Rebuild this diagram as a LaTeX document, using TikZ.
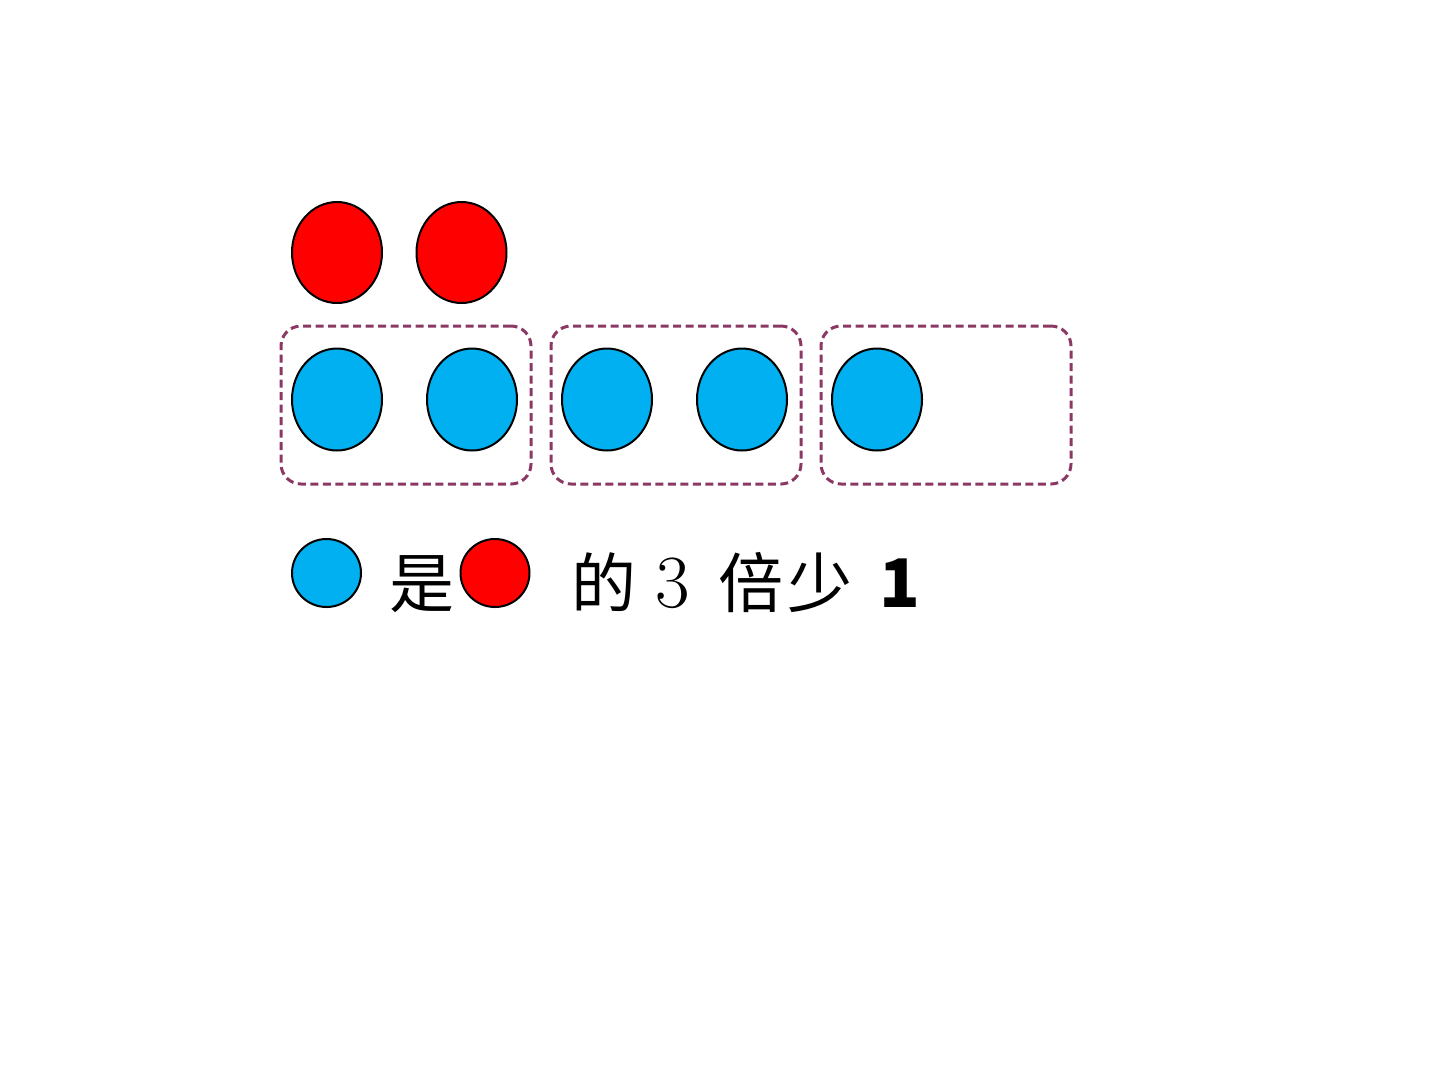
\documentclass[tikz,border=0pt]{standalone}
\usepackage{fontspec}
\newfontfamily\cjk{Noto Sans CJK SC}
\definecolor{ballblue}{RGB}{0,176,240}
\definecolor{ballred}{RGB}{255,0,0}
\definecolor{boxpurple}{RGB}{140,56,100}
\usetikzlibrary{shapes.geometric}
\tikzset{
  ball/.style={ellipse, draw=black, line width=2pt, minimum width=90pt, minimum height=102pt, inner sep=0pt},
  smallball/.style={ellipse, draw=black, line width=2pt, minimum width=69pt, minimum height=68pt, inner sep=0pt},
  groupbox/.style={draw=boxpurple, line width=3pt, dash pattern=on 8pt off 4.5pt, rounded corners=20pt, minimum width=250pt, minimum height=158pt, inner sep=0pt},
  cjktext/.style={anchor=base, inner sep=0pt, font=\cjk\fontsize{65}{65}\selectfont},
  numtext/.style={anchor=base, inner sep=0pt, font=\fontsize{75}{75}\selectfont},
  onetext/.style={anchor=base, inner sep=0pt, font=\cjk\bfseries\fontsize{67}{67}\selectfont}
}
\begin{document}
\begin{tikzpicture}[x=1pt,y=-1pt]
\useasboundingbox (0,0) rectangle (1440,1080);
% red balls
\node[ball, fill=ballred, minimum height=101pt] (r1) at (337,252.5) {};
\node[ball, fill=ballred, minimum height=101pt] (r2) at (461.5,252.5) {};
% group boxes
\node[groupbox] (g1) at (406,405) {};
\node[groupbox] (g2) at (676,405) {};
\node[groupbox] (g3) at (946,405) {};
% blue balls
\node[ball, fill=ballblue] (b1) at (337,399.5) {};
\node[ball, fill=ballblue] (b2) at (472,399.5) {};
\node[ball, fill=ballblue] (b3) at (607,399.5) {};
\node[ball, fill=ballblue] (b4) at (742,399.5) {};
\node[ball, fill=ballblue] (b5) at (877,399.5) {};
% sentence
\node[smallball, fill=ballblue] (sb) at (326.5,573) {};
\node[cjktext] (t1) at (422,607) {是};
\node[smallball, fill=ballred] (sr) at (495,573) {};
\node[cjktext] (t2) at (604,607) {的};
\node[numtext] (t3) at (673,607) {3};
\node[cjktext] (t4) at (751,607) {倍};
\node[cjktext] (t5) at (820,607) {少};
\node[onetext] (t6) at (900,607) {1};
\end{tikzpicture}
\end{document}
